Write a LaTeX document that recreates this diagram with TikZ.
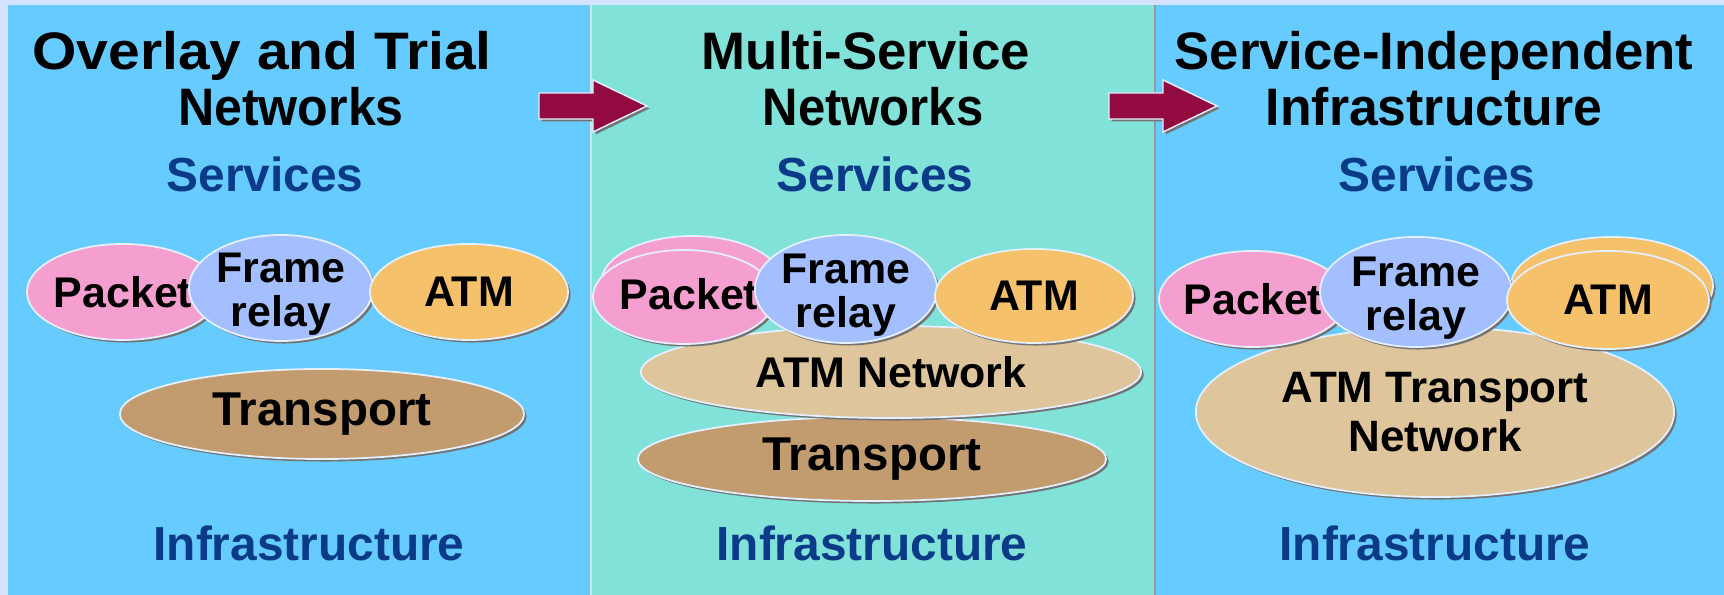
\documentclass[tikz,border=0pt]{standalone}
\usepackage{fontspec}
\setmainfont{Liberation Sans}
\usetikzlibrary{shapes.geometric, shadows}
\definecolor{Rim}{HTML}{D4E2FF}
\definecolor{RimLight}{HTML}{E4F0FF}
\definecolor{PanelBlue}{HTML}{66CCFF}
\definecolor{PanelTeal}{HTML}{80E2D9}
\definecolor{LabelBlue}{HTML}{0A3A88}
\definecolor{PacketPink}{HTML}{F49FD0}
\definecolor{FrameBlue}{HTML}{A3BFFF}
\definecolor{AtmOrange}{HTML}{F5C16B}
\definecolor{TransportBrown}{HTML}{C29B6E}
\definecolor{NetworkTan}{HTML}{DEC59C}
\definecolor{ArrowRed}{HTML}{930A40}
\tikzset{
  blob/.style={ellipse, draw=RimLight, line width=0.5pt, inner sep=0pt,
    drop shadow={shadow xshift=0.025cm, shadow yshift=-0.025cm, fill=gray!90!black, opacity=1}},
  blobtext/.style={font=\fontsize{12.2}{12.5}\selectfont\bfseries, align=center},
  pairtext/.style={blobtext, yshift=-0.06cm},
  bigtext/.style={font=\fontsize{13.5}{14}\selectfont\bfseries, align=center},
  heading/.style={font=\fontsize{15}{16}\selectfont\bfseries, align=center},
  layer/.style={font=\fontsize{13.6}{15}\selectfont\bfseries, text=LabelBlue},
  movearrow/.style={fill=ArrowRed, draw=RimLight, line width=0.4pt,
    drop shadow={shadow xshift=0.025cm, shadow yshift=-0.025cm, fill=gray!90!black, opacity=1}}
}

\begin{document}
\begin{tikzpicture}[x=0.01cm, y=-0.01cm]
    \useasboundingbox (0,0) rectangle (1724,595);
    \fill [Rim] (0,0) rectangle (1724,595);
    \fill [PanelBlue] (8,5) rectangle (590,595);
    \fill [PanelTeal] (592,5) rectangle (1154,595);
    \fill [gray!80] (1154,5) rectangle (1156,595);
    \fill [PanelBlue] (1156,5) rectangle (1724,595);

    \filldraw [movearrow] (539,93) -- (593,93) -- (593,80) -- (647,106) -- (593,132) -- (593,119) -- (539,119) -- cycle;
    \filldraw [movearrow] (1109,93) -- (1163,93) -- (1163,80) -- (1217,106) -- (1163,132) -- (1163,119) -- (1109,119) -- cycle;

    \node [heading] (title1) at (262,79) {\scalebox{1.08}[1]{Overlay and Trial}\\\hspace*{0.58cm}\scalebox{0.95}[1]{Networks}};
    \node [heading] (title2) at (866,79) {Multi-Service\\\hspace*{0.14cm}\scalebox{0.93}[1]{Networks}};
    \node [heading] (title3) at (1434,79) {Service-Independent\\\scalebox{0.98}[1]{Infrastructure}};

    \node [layer] (services1) at (265,174) {Services};
    \node [layer] (services2) at (875,174) {Services};
    \node [layer] (services3) at (1437,174) {Services};
    \node [layer] (infra1) at (309,543) {Infrastructure};
    \node [layer] (infra2) at (872,543) {Infrastructure};
    \node [layer] (infra3) at (1435,543) {Infrastructure};

    % overlay and trial networks
    \node [blob, fill=TransportBrown, minimum width=4.04cm, minimum height=0.90cm, label={[bigtext]center:Transport}] (transport1) at (322,414) {};
    \node [blob, fill=PacketPink, minimum width=1.92cm, minimum height=0.96cm, label={[blobtext]center:Packet}] (packet1) at (123,292) {};
    \node [blob, fill=FrameBlue, minimum width=1.84cm, minimum height=1.06cm, label={[pairtext]center:Frame\\relay}] (frame1) at (281,288) {};
    \node [blob, fill=AtmOrange, minimum width=1.98cm, minimum height=0.96cm, label={[blobtext]center:ATM}] (atm1) at (469,292) {};

    % multi-service networks
    \node [blob, fill=TransportBrown, minimum width=4.68cm, minimum height=0.84cm, label={[bigtext]center:Transport}] (transport2) at (872,459) {};
    \node [blob, fill=NetworkTan, minimum width=5.00cm, minimum height=0.92cm, label={[blobtext]center:ATM Network}] (atmnet2) at (891,372) {};
    \node [blob, fill=PacketPink, minimum width=1.82cm, minimum height=0.94cm] (packetback2) at (692,283) {};
    \node [blob, fill=PacketPink, minimum width=1.82cm, minimum height=0.94cm, label={[blobtext, xshift=0.05cm, yshift=0.03cm]center:Packet}] (packet2) at (684,297) {};
    \node [blob, fill=FrameBlue, minimum width=1.82cm, minimum height=1.08cm, label={[pairtext]center:Frame\\relay}] (frame2) at (846,289) {};
    \node [blob, fill=AtmOrange, minimum width=1.98cm, minimum height=0.94cm, label={[blobtext]center:ATM}] (atm2) at (1034,296) {};

    % service-independent infrastructure
    \node [blob, fill=NetworkTan, minimum width=4.78cm, minimum height=1.70cm, label={[blobtext, font=\fontsize{12.5}{14}\selectfont\bfseries]center:ATM Transport\\Network}] (atmnet3) at (1435,412) {};
    \node [blob, fill=PacketPink, minimum width=1.88cm, minimum height=0.96cm, label={[blobtext]center:Packet}] (packet3) at (1253,299) {};
    \node [blob, fill=AtmOrange, minimum width=2.02cm, minimum height=0.98cm] (atmback3) at (1612,286) {};
    \node [blob, fill=FrameBlue, minimum width=1.92cm, minimum height=1.10cm, label={[pairtext]center:Frame\\relay}] (frame3) at (1416,292) {};
    \node [blob, fill=AtmOrange, minimum width=2.02cm, minimum height=0.98cm, label={[blobtext]center:ATM}] (atm3) at (1608,300) {};
\end{tikzpicture}
\end{document}
